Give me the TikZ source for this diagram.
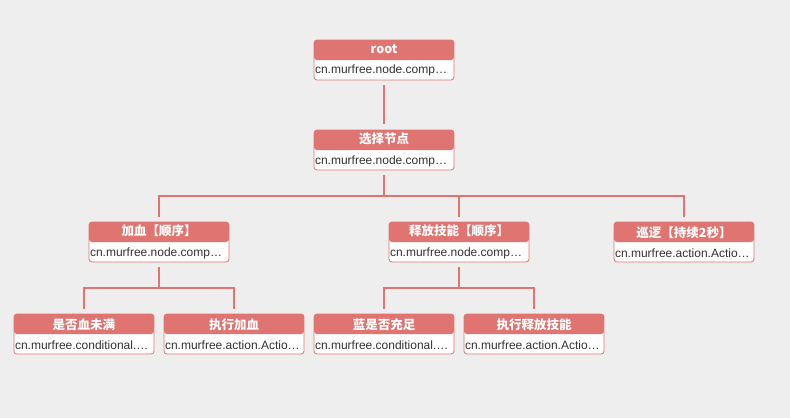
\documentclass[tikz,border=0pt]{standalone}
\usepackage{fontspec}
\setmainfont{Liberation Sans}
\newfontfamily\cjk{Noto Sans CJK SC}
\usetikzlibrary{positioning}
\definecolor{hdrred}{HTML}{E07470}
\definecolor{bgrey}{HTML}{EEEEEE}
\definecolor{bodytxt}{HTML}{333333}
\tikzset{
    %Define style for tree nodes
    btnode/.style={
             rectangle, rounded corners=3pt,
             draw=hdrred, line width=0.8pt, fill=white,
             minimum width=140pt, minimum height=40pt,
             inner sep=0pt, align=center,
             font=\fontsize{12}{20.5}\selectfont,
             path picture={\fill[hdrred] (path picture bounding box.north west)
                  rectangle ([yshift=-20pt]path picture bounding box.north east);}},
    % Define connector style
    btlink/.style={
            draw=hdrred,
            line width=2pt,
            shorten <=5pt,
            shorten >=5pt}
}
\newcommand{\bttext}[2]{{\cjk\bfseries\fontsize{12.5}{20.5}\selectfont\color{white}#1}\\%
  \makebox[138pt][l]{\color{bodytxt}#2}}
\begin{document}
\begin{tikzpicture}[x=1pt,y=1pt]
 \fill[bgrey] (0,0) rectangle (790,-418);
 \useasboundingbox (0,0) rectangle (790,-418);
 \node[btnode] (root) at (384,-60) {\bttext{root}{cn.murfree.node.comp…}};
 \node[btnode] (select) at (384,-150) {\bttext{选择节点}{cn.murfree.node.comp…}};
 \node[btnode] (addhp) at (159,-242) {\bttext{加血【顺序】}{cn.murfree.node.comp…}};
 \node[btnode] (skill) at (459,-242) {\bttext{释放技能【顺序】}{cn.murfree.node.comp…}};
 \node[btnode] (patrol) at (684,-242) {\bttext{巡逻【持续2秒】}{cn.murfree.action.Actio…}};
 \node[btnode] (hpfull) at (84,-334) {\bttext{是否血未满}{cn.murfree.conditional.…}};
 \node[btnode] (doaddhp) at (234,-334) {\bttext{执行加血}{cn.murfree.action.Actio…}};
 \node[btnode] (mpok) at (384,-334) {\bttext{蓝是否充足}{cn.murfree.conditional.…}};
 \node[btnode] (doskill) at (534,-334) {\bttext{执行释放技能}{cn.murfree.action.Actio…}};
 \draw[btlink, shorten >=6pt] (root) -- (select);
 \foreach \kid in {addhp,skill,patrol}
   \draw[btlink] (select.south) -- ++(0,-26) -| (\kid.north);
 \foreach \kid in {hpfull,doaddhp}
   \draw[btlink] (addhp.south) -- ++(0,-26) -| (\kid.north);
 \foreach \kid in {mpok,doskill}
   \draw[btlink] (skill.south) -- ++(0,-26) -| (\kid.north);
\end{tikzpicture}
\end{document}
